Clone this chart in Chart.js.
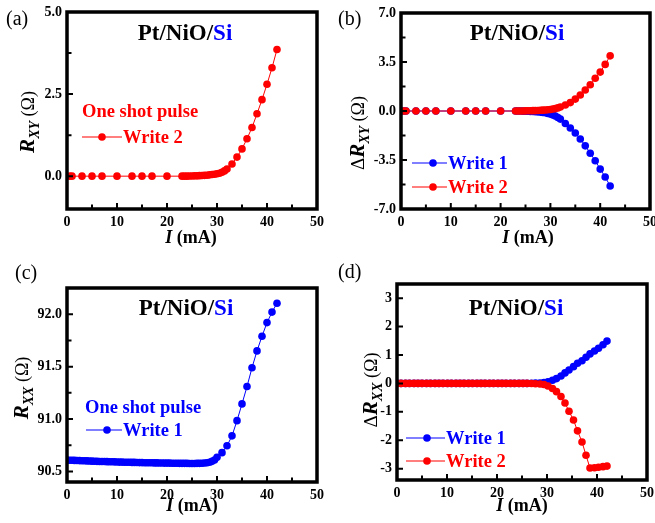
<!DOCTYPE html>
<html>
<head>
<meta charset="utf-8">
<script src="https://cdn.jsdelivr.net/npm/chart.js@4.4.1/dist/chart.umd.min.js"></script>
<style>
    body { margin: 0; background: #fff; }
    #wrap { position: relative; width: 655px; height: 523px; overflow: hidden; }
    #wrap canvas { position: absolute; left: 0; top: 0; }
</style>
</head>
<body>
<div id="wrap"></div>
<script>
// ---- data ----
// (a) and (b) share the same current steps
const abCurrent = [0.5, 1, 3, 5, 7, 10, 13, 15, 17, 20,
    23, 23.5, 24, 24.5, 25, 25.5, 26, 26.5, 27, 27.5, 28, 28.5, 29, 29.5, 30, 30.5, 31, 31.5, 32,
    33, 34, 35, 36, 37, 38, 39, 40, 41, 42];
const aWrite2 = [0, 0, 0, 0, 0, 0, 0, 0, 0, 0,
    0, 0, 0, 0.005, 0.005, 0.01, 0.01, 0.015, 0.02, 0.025, 0.03, 0.04, 0.05, 0.06, 0.075, 0.09, 0.12, 0.16, 0.22,
    0.37, 0.58, 0.83, 1.14, 1.48, 1.90, 2.33, 2.80, 3.30, 3.86];
const bWrite1 = [0, 0, 0, 0, 0, 0, 0, 0, 0, 0,
    0, 0, -0.005, -0.01, -0.015, -0.02, -0.03, -0.04, -0.05, -0.06, -0.08, -0.1, -0.13, -0.17, -0.22, -0.28, -0.36, -0.46, -0.58,
    -0.89, -1.21, -1.57, -2.0, -2.49, -3.02, -3.55, -4.15, -4.71, -5.36];
const bWrite2 = [0, 0, 0, 0, 0, 0, 0, 0, 0, 0,
    0, 0, 0.005, 0.005, 0.01, 0.015, 0.02, 0.025, 0.03, 0.04, 0.05, 0.06, 0.07, 0.09, 0.11, 0.14, 0.17, 0.22, 0.29,
    0.43, 0.6, 0.85, 1.14, 1.50, 1.88, 2.34, 2.78, 3.33, 3.94];

const cCurrent = [0, 0.5, 1, 1.5, 2, 2.5, 3, 3.5, 4, 4.5, 5, 5.5, 6, 6.5, 7, 7.5, 8, 8.5, 9, 9.5,
    10, 10.5, 11, 11.5, 12, 12.5, 13, 13.5, 14, 14.5, 15, 15.5, 16, 16.5, 17, 17.5, 18, 18.5, 19, 19.5,
    20, 20.5, 21, 21.5, 22, 22.5, 23, 23.5, 24, 24.5, 25, 25.5, 26, 26.5, 27, 27.5, 28, 28.5, 29, 29.5,
    30, 31, 32, 33, 34, 35, 36, 37, 38, 39, 40, 41, 42];
const cWrite1 = [90.610, 90.608, 90.607, 90.606, 90.605, 90.604, 90.603, 90.602, 90.601, 90.600,
    90.599, 90.598, 90.597, 90.596, 90.596, 90.595, 90.594, 90.593, 90.593, 90.592,
    90.591, 90.590, 90.590, 90.589, 90.588, 90.588, 90.587, 90.587, 90.586, 90.585,
    90.585, 90.584, 90.584, 90.583, 90.583, 90.582, 90.582, 90.581, 90.581, 90.580,
    90.580, 90.580, 90.579, 90.579, 90.579, 90.578, 90.578, 90.578, 90.578, 90.577,
    90.577, 90.577, 90.578, 90.578, 90.579, 90.581, 90.584, 90.589, 90.597, 90.610,
    90.635, 90.68, 90.745, 90.84, 90.985, 91.145, 91.31, 91.49, 91.65, 91.79, 91.92, 92.02, 92.105];

const dCurrent = [0, 0.8, 1.7, 2.5, 3.4, 4.2, 5, 5.9, 6.7, 7.6, 8.4, 9.2, 10.1, 10.9, 11.8, 12.6, 13.4,
    14.3, 15.1, 16, 16.8, 17.6, 18.5, 19.3, 20.2, 21, 21.8, 22.7, 23.5, 24.4, 25.2, 26, 26.9, 27.7,
    28.6, 29.4, 30.2, 31.1, 31.9, 32.8, 33.6, 34.4, 35.3, 36.1, 37, 37.8, 38.6, 39.5, 40.3, 41.2, 42];
const dWrite1 = [0, 0, 0, 0, 0, 0, 0, 0, 0, 0, 0, 0, 0, 0, 0, 0, 0,
    0, 0, 0, 0, 0, 0, 0, 0, 0, 0, 0, 0, 0, 0, 0, 0.005, 0.01,
    0.015, 0.03, 0.06, 0.11, 0.17, 0.26, 0.37, 0.47, 0.59, 0.71, 0.80, 0.92, 1.04, 1.14, 1.24, 1.36, 1.49];
const dWrite2 = [0, 0, 0, 0, 0, 0, 0, 0, 0, 0, 0, 0, 0, 0, 0, 0, 0,
    0, 0, 0, 0, 0, 0, 0, 0, 0, 0, 0, 0, 0, 0, 0, -0.005, -0.01,
    -0.02, -0.04, -0.09, -0.18, -0.29, -0.46, -0.69, -0.98, -1.29, -1.67, -2.06, -2.53, -2.98, -2.97, -2.95, -2.93, -2.91];

// ticks
const xMajor = [0, 10, 20, 30, 40, 50];
const xMinor = [5, 15, 25, 35, 45];
const aYMajor = [0, 2.5, 5];
const aYMinor = [1.25, 3.75];
const bYMajor = [-7, -3.5, 0, 3.5, 7];
const bYMinor = [-5.25, -1.75, 1.75, 5.25];
const cYMajor = [90.5, 91, 91.5, 92];
const cYMinor = [90.75, 91.25, 91.75, 92.25];
const dYMajor = [-3, -2, -1, 0, 1, 2, 3];
const dYMinor = [];

const RED = '#ff0000';
const BLUE = '#0000ff';
const SERIF = '"Liberation Serif", "Times New Roman", serif';
const W = 655, H = 523;
const YW = 40, XH = 24;

let wrap = document.getElementById('wrap');

// draws a run of differently styled pieces; align 'center' or 'left'
let drawRich = function(ctx, parts, x, y, align, rotate) {
    ctx.save();
    ctx.translate(x, y);
    if (rotate) {
        ctx.rotate(-Math.PI / 2);
    }
    ctx.textBaseline = 'alphabetic';
    ctx.textAlign = 'left';
    let w = 0;
    parts.forEach((pt) => { ctx.font = pt[1]; w += ctx.measureText(pt[0]).width; });
    let cx = align === 'center' ? -w / 2 : 0;
    parts.forEach((pt) => {
        ctx.font = pt[1];
        ctx.fillStyle = pt[2] || '#000';
        ctx.fillText(pt[0], cx, pt[3] || 0);
        cx += ctx.measureText(pt[0]).width;
    });
    ctx.restore();
}

let drawDecor = function(chart, p) {
    let ctx = chart.ctx, a = chart.chartArea, xs = chart.scales.x, ys = chart.scales.y;
    ctx.save();
    ctx.strokeStyle = '#000';
    ctx.lineWidth = 2;
    ctx.beginPath();
    xMajor.forEach((v) => { let px = xs.getPixelForValue(v); ctx.moveTo(px, a.bottom); ctx.lineTo(px, a.bottom - 6); });
    xMinor.forEach((v) => { let px = xs.getPixelForValue(v); ctx.moveTo(px, a.bottom); ctx.lineTo(px, a.bottom - 4.5); });
    p.yMajor.forEach((v) => { let py = ys.getPixelForValue(v); ctx.moveTo(a.left, py); ctx.lineTo(a.left + 6, py); });
    p.yMinor.forEach((v) => { let py = ys.getPixelForValue(v); ctx.moveTo(a.left, py); ctx.lineTo(a.left + 4.5, py); });
    ctx.stroke();

    ctx.lineWidth = 3.5;
    ctx.strokeRect(a.left, a.top, a.right - a.left, a.bottom - a.top);

    // panel letter
    ctx.font = '20px ' + SERIF;
    ctx.fillStyle = '#000';
    ctx.textAlign = 'left';
    ctx.fillText(p.letter[0], p.letter[1], p.letter[2]);

    // sample title
    drawRich(ctx, [['Pt/NiO/', 'bold 23px ' + SERIF], ['Si', 'bold 23px ' + SERIF, BLUE]], p.title[0], p.title[1], 'center');

    // axis titles
    drawRich(ctx, [['I', 'italic bold 18px ' + SERIF], [' (mA)', 'bold 18px ' + SERIF]], p.xTitle[0], p.xTitle[1], 'center');
    let yParts = [];
    if (p.delta) {
        yParts.push(['\u0394', '19px ' + SERIF]);
    }
    yParts.push(['R', 'italic bold 21px ' + SERIF]);
    yParts.push([p.sub, 'italic bold 14px ' + SERIF, '#000', 5]);
    yParts.push([' (\u03A9)', '18px ' + SERIF]);
    drawRich(ctx, yParts, p.yTitle[0], p.yTitle[1], 'center', true);

    // note + legend rows
    if (p.note) {
        drawRich(ctx, [[p.note[0], 'bold 18.5px ' + SERIF, p.note[1]]], p.note[2], p.note[3], 'left');
    }
    p.legend.forEach((row) => {
        ctx.strokeStyle = row.color;
        ctx.fillStyle = row.color;
        ctx.lineWidth = 1.2;
        ctx.beginPath();
        ctx.moveTo(row.x0, row.y);
        ctx.lineTo(row.x1, row.y);
        ctx.stroke();
        ctx.beginPath();
        ctx.arc(row.mx, row.y, 3.8, 0, Math.PI * 2);
        ctx.fill();
        drawRich(ctx, [[row.label, 'bold 18.5px ' + SERIF, row.color]], row.x1 + 1, row.y + 6, 'left');
    });
    ctx.restore();
}

let makePanel = function(p) {
    let canvas = document.createElement('canvas');
    canvas.setAttribute('width', W);
    canvas.setAttribute('height', H);
    wrap.appendChild(canvas);

    let tickFont = { family: SERIF, weight: 'bold', size: 14 };
    let datasets = p.series.map((s) => ({
        data: s.x.map((x, i) => ({ x: x, y: s.y[i] })),
        showLine: true,
        borderColor: s.color,
        borderWidth: 1,
        pointRadius: 3.8,
        pointHoverRadius: 3.8,
        pointBackgroundColor: s.color,
        pointBorderWidth: 0,
    }));

    new Chart(canvas.getContext('2d'), {
        type: 'scatter',
        data: { datasets: datasets },
        options: {
            responsive: false,
            animation: false,
            events: [],
            layout: {
                padding: {
                    left: p.area[0] - YW,
                    top: p.area[1],
                    right: W - p.area[2],
                    bottom: H - p.area[3] - XH,
                }
            },
            plugins: {
                legend: { display: false },
                tooltip: { enabled: false },
            },
            scales: {
                x: {
                    min: 0,
                    max: 50,
                    afterBuildTicks: (s) => { s.ticks = xMajor.map((v) => ({ value: v })); },
                    afterFit: (s) => { s.height = XH; s.paddingLeft = 0; s.paddingRight = 0; },
                    grid: { display: false, drawTicks: false },
                    border: { display: false },
                    ticks: { padding: 5, color: '#000', font: tickFont, maxRotation: 0, autoSkip: false },
                },
                y: {
                    min: p.yMin,
                    max: p.yMax,
                    afterBuildTicks: (s) => { s.ticks = p.yMajor.map((v) => ({ value: v })); },
                    afterFit: (s) => { s.width = YW; s.paddingTop = 0; s.paddingBottom = 0; },
                    grid: { display: false, drawTicks: false },
                    border: { display: false },
                    ticks: {
                        padding: 5, color: '#000', font: tickFont, autoSkip: false,
                        callback: (v) => Number(v).toFixed(p.yDec),
                    },
                },
            }
        },
        plugins: [{ id: 'decor', afterDraw: (chart) => drawDecor(chart, p) }]
    });
}

makePanel({
    area: [67, 12, 317, 209],
    yMin: -1, yMax: 5, yMajor: aYMajor, yMinor: aYMinor, yDec: 1,
    series: [{ x: abCurrent, y: aWrite2, color: RED }],
    letter: ['(a)', 6, 25],
    title: [185, 40],
    xTitle: [191, 243],
    yTitle: [34, 122], sub: 'XY', delta: false,
    note: ['One shot pulse', RED, 82, 117],
    legend: [{ label: 'Write 2', color: RED, x0: 82, x1: 122, mx: 102, y: 137 }],
});

makePanel({
    area: [401, 13, 650, 209],
    yMin: -7, yMax: 7, yMajor: bYMajor, yMinor: bYMinor, yDec: 1,
    series: [{ x: abCurrent, y: bWrite2, color: RED }, { x: abCurrent, y: bWrite1, color: BLUE }],
    letter: ['(b)', 338, 25],
    title: [517, 40],
    xTitle: [528, 243],
    yTitle: [364, 133], sub: 'XY', delta: true,
    note: null,
    legend: [
        { label: 'Write 1', color: BLUE, x0: 412, x1: 447, mx: 433, y: 163 },
        { label: 'Write 2', color: RED, x0: 412, x1: 447, mx: 433, y: 187 },
    ],
});

makePanel({
    area: [67, 288, 317, 482],
    yMin: 90.4, yMax: 92.25, yMajor: cYMajor, yMinor: cYMinor, yDec: 1,
    series: [{ x: cCurrent, y: cWrite1, color: BLUE }],
    letter: ['(c)', 15, 279],
    title: [186, 315],
    xTitle: [192, 511],
    yTitle: [28, 388], sub: 'XX', delta: false,
    note: ['One shot pulse', BLUE, 85, 413],
    legend: [{ label: 'Write 1', color: BLUE, x0: 86, x1: 122, mx: 107, y: 430 }],
});

makePanel({
    area: [397, 284, 647, 480],
    yMin: -3.4, yMax: 3.5, yMajor: dYMajor, yMinor: dYMinor, yDec: 0,
    series: [{ x: dCurrent, y: dWrite2, color: RED }, { x: dCurrent, y: dWrite1, color: BLUE }],
    letter: ['(d)', 338, 278],
    title: [516, 315],
    xTitle: [522, 511],
    yTitle: [377, 390], sub: 'XX', delta: true,
    note: null,
    legend: [
        { label: 'Write 1', color: BLUE, x0: 406, x1: 445, mx: 427, y: 438 },
        { label: 'Write 2', color: RED, x0: 406, x1: 445, mx: 427, y: 461 },
    ],
});
</script>
</body>
</html>
